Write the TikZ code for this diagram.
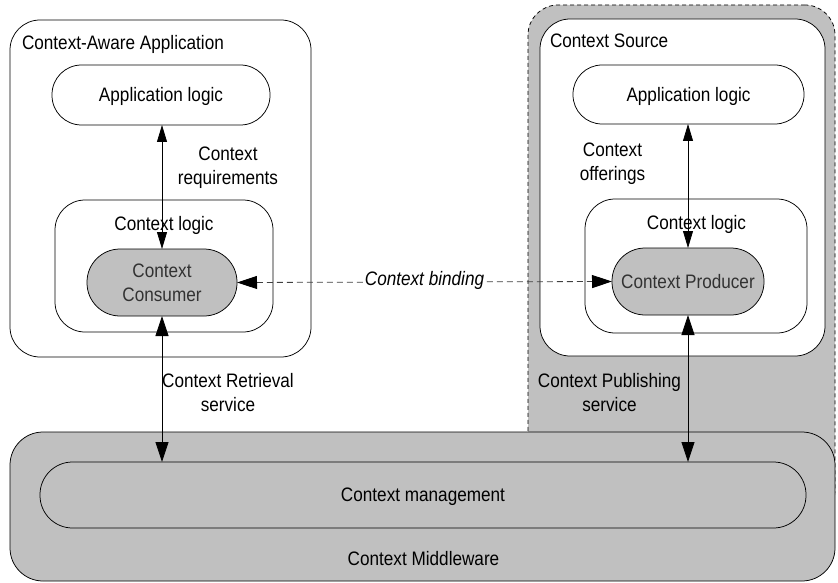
\documentclass[tikz,border=0pt]{standalone}
\usepackage{fontspec}
\setmainfont{Liberation Sans}[FakeStretch=0.88]
\usetikzlibrary{arrows.meta}
\definecolor{boxgray}{RGB}{192,192,192}
\definecolor{softtext}{RGB}{50,50,50}
\tikzset{
  bigtip/.tip={Triangle[length=20pt,width=13pt]},
  smalltip/.tip={Triangle[length=17pt,width=10pt]},
  blacktip/.tip={Triangle[length=20pt,width=13pt,color=black]}
}
\begin{document}
\begin{tikzpicture}[x=1pt,y=-1pt,
  every node/.style={font=\fontsize{19.5}{24}\selectfont, inner sep=0pt, outer sep=0pt},
  frame/.style={draw=black, line width=0.75pt, fill=white, rounded corners=30pt},
  pill/.style={draw=black, line width=0.75pt, fill=white, rounded corners=#1},
  graypill/.style={pill=#1, fill=boxgray, text=softtext},
  onel/.style={text height=13.5pt, text depth=0pt},
  link/.style={draw=black, line width=0.8pt},
  bindline/.style={draw=black!75, line width=0.8pt, dash pattern=on 6pt off 4pt}
]
\useasboundingbox[fill=white] (0,0) rectangle (838,583);

% gray region behind the context source
\node[draw=black, line width=0.75pt, dash pattern=on 4pt off 3pt, fill=boxgray,
      rounded corners=30pt, minimum width=307pt, minimum height=515pt]
      (srcarea) at (681.5,262.5) {};

% context-aware application
\node[frame, minimum width=301pt, minimum height=337pt] (caa) at (160.5,188.5) {};
\node[anchor=base west] (caatitle) at (22,50) {Context-Aware Application};
\node[pill=29.5pt, minimum width=218pt, minimum height=60pt, onel] (appL) at (161,95) {Application logic};
\node[frame, minimum width=218pt, minimum height=132pt] (ctxL) at (164,266) {};
\node[anchor=base] (ctxLtitle) at (164,230) {Context logic};
\node[graypill=33pt, minimum width=150pt, minimum height=67pt, align=center] (consumer) at (162,282.5) {Context\\Consumer};

% context source
\node[frame, minimum width=285pt, minimum height=337pt] (src) at (682.5,187.5) {};
\node[anchor=base west] (srctitle) at (550,48) {Context Source};
\node[pill=29pt, minimum width=231pt, minimum height=59pt, onel] (appR) at (688.5,94.5) {Application logic};
\node[frame, minimum width=222pt, minimum height=134pt] (ctxR) at (696,266) {};
\node[anchor=base] (ctxRtitle) at (696.5,229) {Context logic};
\node[graypill=33pt, minimum width=152pt, minimum height=67pt, onel] (producer) at (688,281.5) {Context Producer};

% middleware
\node[draw=black, line width=0.75pt, fill=boxgray, rounded corners=33pt,
      minimum width=825pt, minimum height=149pt] (mw) at (422.5,506.5) {};
\node[graypill=32.5pt, text=black, minimum width=766pt, minimum height=66pt, onel] (mgmt) at (423,495) {Context management};
\node[onel] (mwtitle) at (423.5,559) {Context Middleware};

% labels
\node[anchor=north, align=center] (reqlbl) at (228,147) {Context\\requirements};
\node[anchor=north, align=center] (offlbl) at (612.5,143) {Context\\offerings};
\node[anchor=north, align=center] (retlbl) at (228,373) {Context Retrieval\\service};
\node[anchor=north, align=center] (publbl) at (609.5,373) {Context Publishing\\service};

% connectors
\draw[link, {smalltip}-{smalltip}] (consumer.north |- appL.south) -- (consumer.north);
\draw[link, {bigtip}-{bigtip}] (consumer.south) -- (consumer.south |- mgmt.north);
\draw[link, {smalltip}-{smalltip}] (producer.north |- appR.south) -- (producer.north);
\draw[link, {bigtip}-{bigtip}] (producer.south) -- (producer.south |- mgmt.north);
\draw[bindline, {blacktip}-{blacktip}] (consumer.east) -- node[fill=white, inner xsep=2pt, inner ysep=1pt, onel, yshift=3pt, font=\fontsize{19.5}{24}\selectfont\itshape] (bindlbl) {Context binding} (producer.west);
\end{tikzpicture}
\end{document}
